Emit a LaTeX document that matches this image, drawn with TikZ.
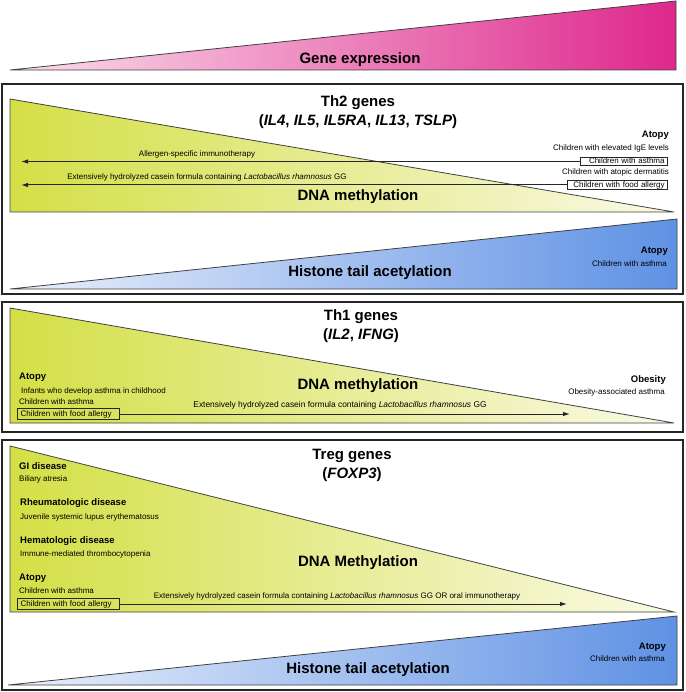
\documentclass[tikz,border=0pt]{standalone}
\usepackage{fontspec}
\setmainfont{Liberation Sans}
\usetikzlibrary{arrows.meta}

\definecolor{geneL}{RGB}{250,222,236}
\definecolor{geneR}{RGB}{222,40,140}
\definecolor{methL}{RGB}{212,223,70}
\definecolor{methR}{RGB}{250,250,230}
\definecolor{acetL}{RGB}{234,240,251}
\definecolor{acetR}{RGB}{95,145,228}

\tikzset{
  panel/.style={draw=black!85, line width=2.2pt},
  wedge/.style={draw=black!75, line width=0.8pt},
  bigtext/.style={font=\bfseries\fontsize{15}{19}\selectfont, align=center, inner sep=0pt},
  group/.style={font=\bfseries\fontsize{9.5}{11}\selectfont, inner sep=0pt},
  small/.style={font=\fontsize{8}{9.5}\selectfont, inner sep=0pt},
  cohortR/.style={draw=black!85, line width=0.8pt, font=\fontsize{8}{9.5}\selectfont, align=right,
    inner xsep=3pt, inner ysep=0.6pt, text height=5.8pt, text depth=1.2pt, anchor=east},
  cohortL/.style={draw=black!85, line width=1.1pt, font=\fontsize{8}{9.5}\selectfont, align=left,
    inner xsep=3pt, inner ysep=1.8pt, text height=5.8pt, text depth=1.2pt, anchor=west},
  treat/.style={-{Latex[length=7pt,width=4.5pt]}, line width=1pt, draw=black!85},
}

\begin{document}
\begin{tikzpicture}[x=1pt,y=-1pt]
    \useasboundingbox (0,0) rectangle (685,692);

    \draw[wedge, left color=geneL, right color=geneR] (10,70) -- (676,1) -- (676,70) -- cycle;
    \node[bigtext] (gene) at (360,60) {Gene expression};

    \draw[panel] (2,84) rectangle (683,294);
    \draw[wedge, left color=methL, right color=methR] (10,99) -- (10,212) -- (674,212) -- cycle;
    \node[bigtext] (th2title) at (358,112) {Th2 genes\\(\textit{IL4}, \textit{IL5}, \textit{IL5RA}, \textit{IL13}, \textit{TSLP})};
    \node[bigtext] (th2meth) at (358,197) {DNA methylation};

    \node[group, anchor=east] (th2atopy) at (669,135) {Atopy};
    \node[small, anchor=east] (th2ige) at (669,148) {Children with elevated IgE levels};
    \node[cohortR, text width=81pt] (th2asthma) at (668,161.5) {Children with asthma};
    \node[small, anchor=east] (th2ad) at (669,172.5) {Children with atopic dermatitis};
    \node[cohortR, text width=94pt] (th2food) at (668,185) {Children with food allergy};

    \coordinate (th2endA) at (21,161.5);
    \coordinate (th2endB) at (21,185);
    \draw[treat] (th2asthma.west) -- (th2endA);
    \draw[treat] (th2food.west) -- (th2endB);
    \node[small] (th2ait) at (197,154) {Allergen-specific immunotherapy};
    \node[small] (th2ehcf) at (207,177.5) {Extensively hydrolyzed casein formula containing \textit{Lactobacillus rhamnosus} GG};

    \draw[wedge, left color=acetL, right color=acetR] (10,289) -- (677,219) -- (677,289) -- cycle;
    \node[bigtext] (th2hist) at (370,273) {Histone tail acetylation};
    \node[group, anchor=east] (th2atopyB) at (668,251) {Atopy};
    \node[small, anchor=east] (th2asthmaB) at (667,264) {Children with asthma};

    \draw[panel] (2,302) rectangle (683,432);
    \draw[wedge, left color=methL, right color=methR] (10,308) -- (10,423) -- (674,423) -- cycle;
    \node[bigtext] (th1title) at (361,326) {Th1 genes\\(\textit{IL2}, \textit{IFNG})};
    \node[bigtext] (th1meth) at (358,386) {DNA methylation};

    \node[group, anchor=west] (th1atopy) at (19,377) {Atopy};
    \node[small, anchor=west] (th1inf) at (21,391) {Infants who develop asthma in childhood};
    \node[small, anchor=west] (th1asthma) at (19,402) {Children with asthma};
    \node[cohortL, text width=96pt] (th1food) at (17,414) {Children with food allergy};
    \coordinate (th1end) at (570,414);
    \draw[treat] (th1food.east) -- (th1end);
    \node[small, font=\fontsize{8.4}{10}\selectfont] (th1ehcf) at (340,405) {Extensively hydrolyzed casein formula containing \textit{Lactobacillus rhamnosus} GG};

    \node[group, anchor=east] (th1obese) at (666,380) {Obesity};
    \node[small, anchor=east] (th1oaa) at (665,392) {Obesity-associated asthma};

    \draw[panel] (2,440) rectangle (683,690);
    \draw[wedge, left color=methL, right color=methR] (10,446) -- (10,612) -- (674,612) -- cycle;
    \node[bigtext] (tregtitle) at (352,465) {Treg genes\\(\textit{FOXP3})};
    \node[bigtext] (tregmeth) at (358,563) {DNA Methylation};

    \node[group, anchor=west] (treggi) at (19,466) {GI disease};
    \node[small, anchor=west] (tregba) at (19,479) {Biliary atresia};
    \node[group, anchor=west] (tregrh) at (20,503) {Rheumatologic disease};
    \node[small, anchor=west] (tregjs) at (20,517) {Juvenile systemic lupus erythematosus};
    \node[group, anchor=west] (treghe) at (20,541) {Hematologic disease};
    \node[small, anchor=west] (tregim) at (20,554) {Immune-mediated thrombocytopenia};
    \node[group, anchor=west] (tregatopy) at (19,578) {Atopy};
    \node[small, anchor=west] (tregasthma) at (19,591) {Children with asthma};
    \node[cohortL, text width=96pt] (tregfood) at (17,604) {Children with food allergy};
    \coordinate (tregend) at (567,604);
    \draw[treat] (tregfood.east) -- (tregend);
    \node[small] (tregehcf) at (337,596) {Extensively hydrolyzed casein formula containing \textit{Lactobacillus rhamnosus} GG OR oral immunotherapy};

    \draw[wedge, left color=acetL, right color=acetR] (8,685) -- (677,616) -- (677,685) -- cycle;
    \node[bigtext] (treghist) at (368,670) {Histone tail acetylation};
    \node[group, anchor=east] (tregatopyB) at (666,647) {Atopy};
    \node[small, anchor=east] (tregasthmaB) at (665,659) {Children with asthma};
\end{tikzpicture}
\end{document}
